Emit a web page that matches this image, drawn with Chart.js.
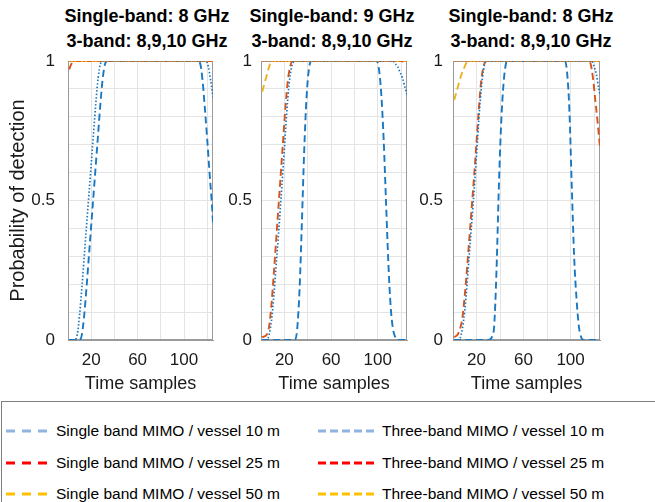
<!DOCTYPE html>
<html>
<head>
<meta charset="utf-8">
<script src="https://cdn.jsdelivr.net/npm/chart.js@4.4.1/dist/chart.umd.min.js"></script>
<style>
  body { margin: 0; width: 655px; height: 502px; background: #fff; position: relative; overflow: hidden;
         font-family: 'Liberation Sans', Arial, sans-serif; color: #000; }
  canvas.panel { position: absolute; top: 37px; }
  .ptitle { position: absolute; top: 4px; width: 220px; text-align: center; font-weight: bold;
            font-size: 18px; line-height: 25px; white-space: nowrap; }
  .legend { position: absolute; left: 1px; top: 401px; width: 700px; height: 140px; border: 1px solid #7f7f7f; }
  .leg-item { position: absolute; height: 22px; display: flex; align-items: center; font-size: 15.5px; white-space: nowrap; }
  .leg-item svg { margin-right: 6px; }
</style>
</head>
<body>
<div id="titles"></div>
<canvas class="panel" id="c1" width="220" height="358" style="left:0px"></canvas>
<canvas class="panel" id="c2" width="192" height="358" style="left:222px"></canvas>
<canvas class="panel" id="c3" width="193" height="358" style="left:414px"></canvas>
<div class="legend" id="legend"></div>

<script>
// axes
const xGrid = [20, 40, 60, 80, 100, 120];
const xTickLabels = [20, 60, 100];
const yGrid = [0, 0.1, 0.2, 0.3, 0.4, 0.5, 0.6, 0.7, 0.8, 0.9, 1];
const yTickLabels = [0, 0.5, 1];

const panelTitles = [
  ['Single-band: 8 GHz', '3-band: 8,9,10 GHz'],
  ['Single-band: 9 GHz', '3-band: 8,9,10 GHz'],
  ['Single-band: 8 GHz', '3-band: 8,9,10 GHz']
];

const seriesNames = [
  'Single band MIMO / vessel 10 m', 'Single band MIMO / vessel 25 m', 'Single band MIMO / vessel 50 m',
  'Three-band MIMO / vessel 10 m', 'Three-band MIMO / vessel 25 m', 'Three-band MIMO / vessel 50 m'
];

// [time sample, probability of detection]

// panel 1
const p1Single10 = [[1,0],[10,0],[12,0.02],[14,0.09],[16,0.19],[18,0.3],[20,0.41],[22,0.52],[24,0.63],[26,0.74],[28,0.85],[30,0.94],[32,0.99],[34,1],
                    [112,1],[114,0.99],[116,0.93],[118,0.83],[120,0.72],[122,0.6],[124,0.49],[125,0.42]];
const p1Single25 = [[1,0.97],[3,0.99],[5,1],[125,1]];
const p1Single50 = [[1,1],[125,1]];
const p1Three10  = [[1,0],[6,0],[8,0.02],[10,0.09],[12,0.19],[14,0.3],[16,0.41],[18,0.52],[20,0.63],[22,0.74],[24,0.85],[26,0.94],[28,0.99],[30,1],
                    [119,1],[121,0.98],[123,0.93],[125,0.87]];
const p1Three25  = [[1,1],[125,1]];
const p1Three50  = [[1,1],[125,1]];

// panel 2
const p2Single10 = [[1,0],[29,0],[31,0.04],[33,0.18],[35,0.42],[37,0.68],[39,0.87],[41,0.97],[43,1],
                    [99,1],[101,0.97],[103,0.88],[105,0.72],[107,0.5],[109,0.28],[111,0.12],[113,0.04],[115,0.01],[117,0],[125,0]];
const p2Single25 = [[1,0.01],[5,0.02],[7,0.05],[9,0.13],[11,0.24],[13,0.36],[15,0.48],[17,0.6],[19,0.72],[21,0.84],[23,0.93],[25,0.98],[27,1],[120,1],[125,0.99]];
const p2Single50 = [[1,0.89],[3,0.92],[5,0.95],[7,0.98],[9,1],[125,1]];
const p2Three10  = [[1,0],[5,0],[7,0.02],[9,0.07],[11,0.16],[13,0.27],[15,0.38],[17,0.5],[19,0.62],[21,0.75],[23,0.87],[25,0.95],[27,0.99],[29,1],
                    [113,1],[115,0.99],[117,0.98],[119,0.96],[121,0.94],[123,0.91],[125,0.88]];
const p2Three25  = [[1,1],[125,1]];
const p2Three50  = [[1,1],[125,1]];

// panel 3
const p3Single10 = [[1,0],[30,0],[33,0.01],[35,0.05],[37,0.25],[39,0.55],[41,0.78],[43,0.92],[45,0.99],[46,1],
                    [95,1],[97,0.96],[99,0.82],[101,0.55],[103,0.3],[105,0.15],[107,0.05],[109,0.01],[111,0],[125,0]];
const p3Single25 = [[1,0.01],[4,0.02],[6,0.04],[8,0.08],[10,0.16],[12,0.26],[14,0.37],[16,0.48],[18,0.59],[20,0.71],[22,0.83],[24,0.93],[26,0.98],[28,1],
                    [115,1],[117,0.99],[119,0.94],[121,0.86],[123,0.78],[125,0.69]];
const p3Single50 = [[1,0.86],[3,0.89],[5,0.92],[7,0.95],[9,0.97],[11,0.99],[13,1],[125,1]];
const p3Three10  = [[1,0],[5,0],[7,0.02],[9,0.07],[11,0.15],[13,0.26],[15,0.37],[17,0.48],[19,0.6],[21,0.73],[23,0.85],[25,0.94],[27,0.99],[29,1],
                    [118,1],[120,0.98],[122,0.95],[124,0.9],[125,0.88]];
const p3Three25  = [[1,1],[125,1]];
const p3Three50  = [[1,1],[125,1]];

const panelSeries = [
  [p1Single10, p1Single25, p1Single50, p1Three10, p1Three25, p1Three50],
  [p2Single10, p2Single25, p2Single50, p2Three10, p2Three25, p2Three50],
  [p3Single10, p3Single25, p3Single50, p3Three10, p3Three25, p3Three50]
];

// styles
const lineColors   = ['#1a78c2', '#d95319', '#edb120', '#1a78c2', '#d95319', '#edb120'];
const legendColors = ['#8eb4e3', '#ff0000', '#ffc000', '#8eb4e3', '#ff0000', '#ffc000'];
const drawOrder    = [5, 4, 3, 0, 1, 2];   // lower = drawn on top
const gridColor = '#e4e4e4';
const boxColor  = '#9a9a9a';
const textColor = '#1a1a1a';

const panelLayout = [
  { id: 'c1', yAxisWidth: 68, tickPad: 13, yTitle: true,  titleCenter: 147 },
  { id: 'c2', yAxisWidth: 39, tickPad: 9,  yTitle: false, titleCenter: 332 },
  { id: 'c3', yAxisWidth: 39, tickPad: 10, yTitle: false, titleCenter: 531 }
];

const frameBox = {
  id: 'frameBox',
  beforeDatasetsDraw(chart) {
    const { ctx, chartArea: a } = chart;
    ctx.save();
    ctx.strokeStyle = boxColor; ctx.lineWidth = 1;
    ctx.strokeRect(Math.round(a.left) + 0.5, Math.round(a.top) + 0.5, Math.round(a.right - a.left) - 1, Math.round(a.bottom - a.top) - 1);
    ctx.restore();
  }
};

function makeDataset(points, k) {
  const three = k >= 3;
  return {
    label: seriesNames[k],
    data: points.map(p => ({ x: p[0], y: p[1] })),
    borderColor: lineColors[k],
    borderWidth: three ? 1.7 : 1.9,
    borderDash: three ? [1.5, 2] : [7, 4],
    pointRadius: 0,
    fill: false,
    cubicInterpolationMode: 'monotone',
    order: drawOrder[k]
  };
}

panelLayout.forEach((p, i) => {
  const t = document.createElement('div');
  t.className = 'ptitle';
  t.style.left = (p.titleCenter - 110) + 'px';
  t.innerHTML = panelTitles[i].join('<br>');
  document.getElementById('titles').appendChild(t);

  new Chart(document.getElementById(p.id), {
    type: 'line',
    data: { datasets: panelSeries[i].map(makeDataset) },
    options: {
      responsive: false, animation: false,
      // top padding large enough to hold the y tick label overflow, so the plot top lands at y=61
      layout: { padding: { top: 24, right: 7, bottom: 0, left: 0 } },
      plugins: { legend: { display: false }, tooltip: { enabled: false } },
      scales: {
        x: {
          type: 'linear', min: 0, max: 125,
          afterBuildTicks: s => { s.ticks = xGrid.map(v => ({ value: v })); },
          afterFit: s => { s.height = 55; },
          ticks: { autoSkip: false, maxRotation: 0, padding: 10, color: textColor,
                   font: { family: 'Liberation Sans', size: 17 },
                   callback: v => xTickLabels.includes(v) ? String(v) : '' },
          grid: { color: gridColor, drawTicks: false },
          border: { color: boxColor },
          title: { display: true, text: 'Time samples', color: textColor,
                   font: { family: 'Liberation Sans', size: 18 }, padding: { top: 0, bottom: 0 } }
        },
        y: {
          min: 0, max: 1,
          afterBuildTicks: s => { s.ticks = yGrid.map(v => ({ value: v })); },
          afterFit: s => { s.width = p.yAxisWidth; },
          ticks: { autoSkip: false, padding: p.tickPad, color: textColor,
                   font: { family: 'Liberation Sans', size: 17 },
                   callback: v => yTickLabels.includes(v) ? String(v) : '' },
          grid: { color: gridColor, drawTicks: false },
          border: { color: boxColor },
          title: { display: p.yTitle, text: 'Probability of detection', color: textColor,
                   font: { family: 'Liberation Sans', size: 20 }, padding: { top: 6, bottom: 0 } }
        }
      }
    },
    plugins: [frameBox]
  });
});

// legend
const legendPos = [
  { x: 4, y: 18 }, { x: 4, y: 50 }, { x: 4, y: 81 },
  { x: 316, y: 18 }, { x: 316, y: 50 }, { x: 316, y: 81 }
];
const legendEl = document.getElementById('legend');
seriesNames.forEach((name, k) => {
  const three = k >= 3;
  const w = three ? 58 : 44;
  const dash = three ? '8 4' : '9 7';
  const item = document.createElement('div');
  item.className = 'leg-item';
  item.style.left = legendPos[k].x + 'px';
  item.style.top = legendPos[k].y + 'px';
  item.innerHTML = `<svg width="${w}" height="6"><line x1="0" y1="3" x2="${w}" y2="3" stroke="${legendColors[k]}" stroke-width="3" stroke-dasharray="${dash}"/></svg><span>${name}</span>`;
  legendEl.appendChild(item);
});
</script>
</body>
</html>
